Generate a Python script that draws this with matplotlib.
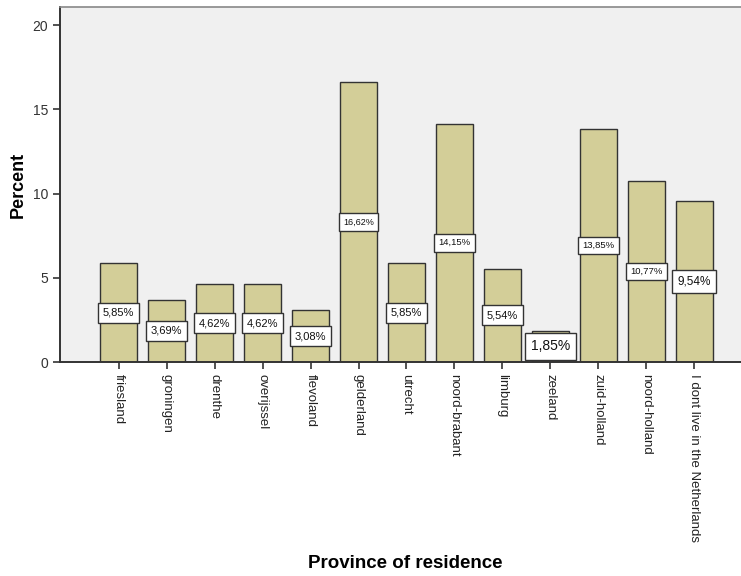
import matplotlib
matplotlib.use('Agg')
import matplotlib.pyplot as plt
import numpy as np

provinces = ['friesland', 'groningen', 'drenthe', 'overijssel', 'flevoland',
             'gelderland', 'utrecht', 'noord-brabant', 'limburg', 'zeeland',
             'zuid-holland', 'noord-holland', "I dont live in the Netherlands"]
percent = [5.85, 3.69, 4.62, 4.62, 3.08, 16.62, 5.85, 14.15, 5.54, 1.85,
           13.85, 10.77, 9.54]
label_sizes = [8, 8, 8, 8, 8, 6.5, 8, 6.8, 8, 10, 6.8, 6.8, 8.5]

plt.rcParams['font.family'] = ['Liberation Sans', 'DejaVu Sans']

fig = plt.figure(figsize=(7.41, 5.76), dpi=100)
ax = fig.add_axes([60/741, 214/576, 1 - 60/741, 355/576])
ax.set_facecolor('#f0f0f0')

x = np.arange(len(provinces))
ax.bar(x, percent, width=0.76, color='#d3ce98', edgecolor='#333333', linewidth=1.0)

for xi, p, fs in zip(x, percent, label_sizes):
    txt = f'{p:.2f}%'.replace('.', ',')
    ax.text(xi, p / 2, txt, ha='center', va='center', fontsize=fs, color='#111111',
            bbox=dict(boxstyle='square,pad=0.45', fc='white', ec='#333333', lw=1.0))

ax.set_xlim(-1.22, 12.97)
ax.set_ylim(0, 21.07)
ax.set_yticks([0, 5, 10, 15, 20])
ax.set_xticks(x)
ax.set_xticklabels(provinces, rotation=-90, ha='center', va='top', fontsize=9.5)
ax.tick_params(axis='y', labelsize=10, length=5, width=1.2, color='#333333', labelcolor='#333333')
ax.tick_params(axis='x', length=5, width=1.2, color='#333333', labelcolor='#222222')

ax.spines['right'].set_visible(False)
ax.spines['top'].set_color('#888888')
ax.spines['top'].set_linewidth(1.2)
for s in ['left', 'bottom']:
    ax.spines[s].set_color('#333333')
    ax.spines[s].set_linewidth(1.4)

ax.set_ylabel('Percent', fontsize=13, fontweight='bold', labelpad=4)
fig.text(405/741, 13/576, 'Province of residence', ha='center', va='center',
         fontsize=13.5, fontweight='bold')

fig.savefig('out.png', dpi=100)
